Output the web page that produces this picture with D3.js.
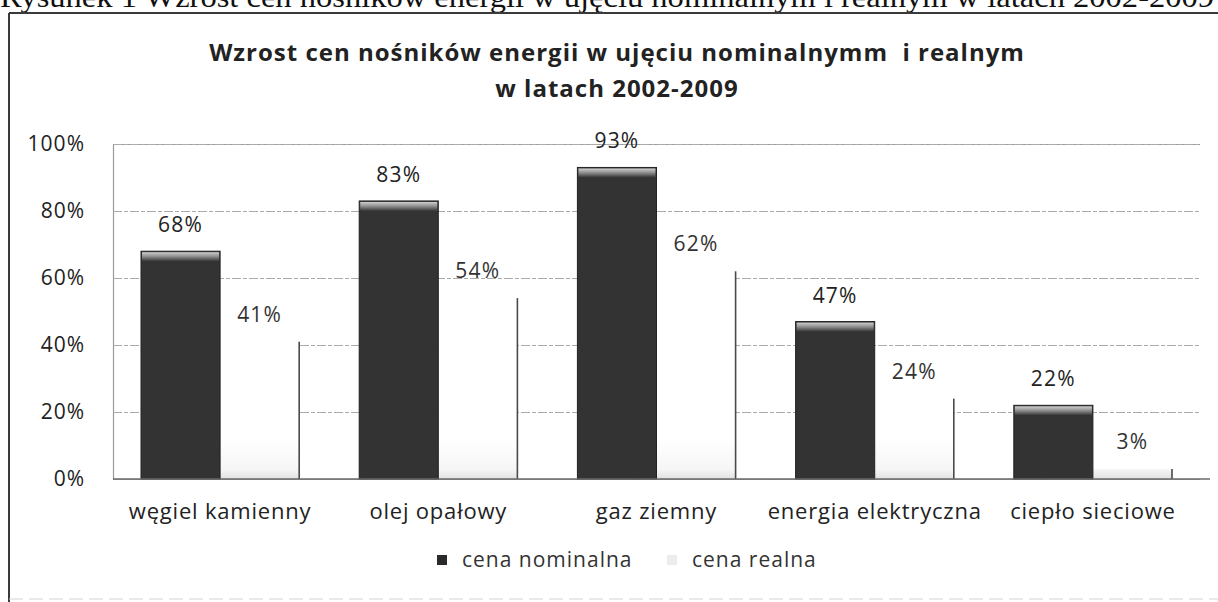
<!DOCTYPE html>
<html>
<head>
<meta charset="utf-8">
<script src="https://cdn.jsdelivr.net/npm/d3@7"></script>
<style>
  body { margin: 0; background: #fff; }
  text { font-family: "Open Sans", sans-serif; fill: #222; }
</style>
</head>
<body>
<div id="chart"></div>
<script>
const categories = ["węgiel kamienny", "olej opałowy", "gaz ziemny", "energia elektryczna", "ciepło sieciowe"];
const nominal = [68, 83, 93, 47, 22];
const real = [41, 54, 62, 24, 3];
const seriesNames = ["cena nominalna", "cena realna"];
const yTicks = [0, 20, 40, 60, 80, 100];
const titleLines = ["Wzrost cen nośników energii w ujęciu nominalnymm  i realnym", "w latach 2002-2009"];
const caption = "Rysunek 1 Wzrost cen nośników energii w ujęciu nominalnym i realnym w latach 2002-2009";

let w = 1218;
let h = 602;
let plotLeft = 113;
let plotRight = 1200;
let plotTop = 144;
let plotBottom = 479;

let rows = categories.map(function (c, i) {
  return { cat: c, nominal: nominal[i], real: real[i] };
});

let x = d3
  .scaleBand()
  .domain(categories)
  .range([111, 1202])
  .paddingInner(0.275)
  .paddingOuter(0.1375);

let xs = d3.scaleBand().domain(["nominal", "real"]).range([0, x.bandwidth()]);

let y = d3.scaleLinear().domain([0, 100]).range([plotBottom, plotTop]);

let svg = d3
  .select("#chart")
  .append("svg")
  .attr("width", w)
  .attr("height", h);

let defs = svg.append("defs");
let bevel = defs
  .append("linearGradient")
  .attr("id", "bevel")
  .attr("x1", 0).attr("y1", 0).attr("x2", 0).attr("y2", 1);
bevel.append("stop").attr("offset", "0%").attr("stop-color", "#cfcfcf");
bevel.append("stop").attr("offset", "50%").attr("stop-color", "#8a8a8a");
bevel.append("stop").attr("offset", "100%").attr("stop-color", "#363636");

let realGrad = defs
  .append("linearGradient")
  .attr("id", "realGrad")
  .attr("gradientUnits", "userSpaceOnUse")
  .attr("x1", 0).attr("y1", plotBottom - 40).attr("x2", 0).attr("y2", plotBottom);
realGrad.append("stop").attr("offset", "0%").attr("stop-color", "#ffffff");
realGrad.append("stop").attr("offset", "75%").attr("stop-color", "#f6f6f6");
realGrad.append("stop").attr("offset", "100%").attr("stop-color", "#e2e2e2");

svg.append("rect").attr("width", w).attr("height", h).attr("fill", "#fff");

// caption of the figure, cut by the top edge of the scan
svg
  .append("text")
  .attr("x", 0)
  .attr("y", 7)
  .attr("textLength", 1214)
  .attr("lengthAdjust", "spacingAndGlyphs")
  .style("font-family", "'Liberation Serif', serif")
  .style("font-size", "30px")
  .style("fill", "#111")
  .text(caption);

// chart frame
svg.append("line").attr("x1", 9).attr("x2", w).attr("y1", 13).attr("y2", 13)
  .attr("stroke", "#3a3a3a").attr("stroke-width", 2);
svg.append("line").attr("x1", 9).attr("x2", 9).attr("y1", 13).attr("y2", h)
  .attr("stroke", "#3a3a3a").attr("stroke-width", 2);
svg.append("line").attr("x1", 9).attr("x2", w).attr("y1", 599).attr("y2", 599)
  .attr("stroke", "#d4d4d4").attr("stroke-width", 1).attr("stroke-dasharray", "14 6");

// title
svg
  .append("g")
  .selectAll("text")
  .data(titleLines)
  .enter()
  .append("text")
  .attr("x", 617)
  .attr("y", function (d, i) { return 61 + i * 36; })
  .attr("text-anchor", "middle")
  .style("white-space", "pre")
  .style("font-size", "24px")
  .style("font-weight", "bold")
  .style("letter-spacing", "1px")
  .text(function (d) { return d; });

// gridlines
let grid = svg
  .append("g")
  .attr("transform", `translate(${plotLeft},0)`)
  .call(d3.axisLeft(y).tickValues(yTicks).tickSize(-(plotRight - plotLeft)).tickFormat(""));
grid.select(".domain").attr("stroke", "#9a9a9a").attr("stroke-width", 1.2);
grid.selectAll(".tick line")
  .attr("stroke", "#ababab")
  .attr("stroke-width", 1.1)
  .attr("stroke-dasharray", "9 2 4 2");

// y axis labels
let yAxis = svg
  .append("g")
  .attr("transform", `translate(${plotLeft},0)`)
  .call(d3.axisLeft(y).tickValues(yTicks).tickSize(0).tickPadding(28).tickFormat(function (d) { return d + "%"; }));
yAxis.select(".domain").remove();
yAxis.selectAll("text")
  .style("font-family", "'Open Sans', sans-serif")
  .style("font-size", "21px")
  .style("letter-spacing", "1px")
  .attr("fill", "#222");

// bars
let group = svg
  .append("g")
  .selectAll("g")
  .data(rows)
  .enter()
  .append("g")
  .attr("transform", function (d) { return `translate(${x(d.cat)},0)`; });

group
  .append("rect")
  .attr("x", xs("real"))
  .attr("y", function (d) { return y(d.real); })
  .attr("width", xs.bandwidth())
  .attr("height", function (d) { return y(0) - y(d.real); })
  .attr("fill", "url(#realGrad)");

group
  .append("line")
  .attr("x1", xs("real") + xs.bandwidth())
  .attr("x2", xs("real") + xs.bandwidth())
  .attr("y1", function (d) { return y(d.real); })
  .attr("y2", y(0))
  .attr("stroke", "#4a4a4a")
  .attr("stroke-width", 1.6);

group
  .append("rect")
  .attr("x", xs("nominal"))
  .attr("y", function (d) { return y(d.nominal); })
  .attr("width", xs.bandwidth())
  .attr("height", function (d) { return y(0) - y(d.nominal); })
  .attr("fill", "#333333")
  .attr("stroke", "#222")
  .attr("stroke-width", 1);

group
  .append("rect")
  .attr("x", xs("nominal") + 1)
  .attr("y", function (d) { return y(d.nominal) + 1; })
  .attr("width", xs.bandwidth() - 2)
  .attr("height", 9)
  .attr("fill", "url(#bevel)");

// data labels
group
  .append("text")
  .attr("x", xs("nominal") + xs.bandwidth() / 2)
  .attr("y", function (d) { return y(d.nominal) - 19; })
  .attr("text-anchor", "middle")
  .style("font-size", "21px")
  .style("letter-spacing", "1.2px")
  .text(function (d) { return d.nominal + "%"; });

group
  .append("text")
  .attr("x", xs("real") + xs.bandwidth() / 2)
  .attr("y", function (d) { return y(d.real) - 20; })
  .attr("text-anchor", "middle")
  .style("font-size", "21px")
  .style("letter-spacing", "1.2px")
  .style("fill", "#333")
  .text(function (d) { return d.real + "%"; });

// x axis
let xAxis = svg
  .append("g")
  .attr("transform", `translate(0,${plotBottom})`)
  .call(d3.axisBottom(x).tickSize(0).tickPadding(24));
xAxis.select(".domain").remove();
xAxis.selectAll("text")
  .style("font-family", "'Open Sans', sans-serif")
  .style("font-size", "22px")
  .style("letter-spacing", "0.8px")
  .attr("fill", "#222");

svg.append("line")
  .attr("x1", plotLeft).attr("x2", 1210)
  .attr("y1", plotBottom).attr("y2", plotBottom)
  .attr("stroke", "#6a6a6a").attr("stroke-width", 1.6);

// legend
let legend = svg.append("g").attr("transform", "translate(437,560)");
let legendX = [0, 230];

legend
  .selectAll("rect")
  .data(seriesNames)
  .enter()
  .append("rect")
  .attr("x", function (d, i) { return legendX[i]; })
  .attr("y", -5)
  .attr("width", 10)
  .attr("height", 10)
  .attr("fill", function (d, i) { return i === 0 ? "#2a2a2a" : "#ececec"; });

legend
  .selectAll("text")
  .data(seriesNames)
  .enter()
  .append("text")
  .attr("x", function (d, i) { return legendX[i] + 25; })
  .attr("y", 7)
  .style("font-size", "21px")
  .style("letter-spacing", "1px")
  .style("fill", "#333")
  .text(function (d) { return d; });
</script>
</body>
</html>
